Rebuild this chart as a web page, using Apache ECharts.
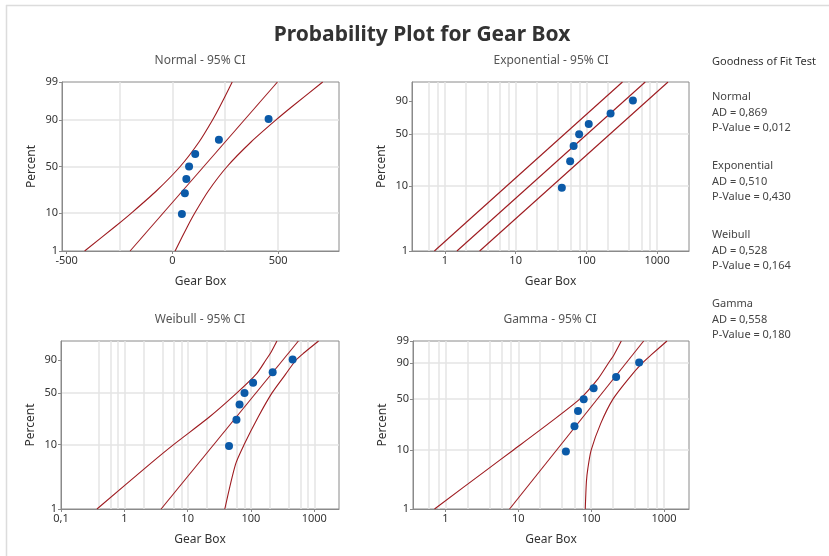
<!DOCTYPE html>
<html lang="en">
<head>
<meta charset="utf-8">
<title>Probability Plot for Gear Box</title>
<script src="https://cdn.jsdelivr.net/npm/echarts@6/dist/echarts.min.js"></script>
<style>
  html, body { margin: 0; padding: 0; background: #fff; }
  #main { width: 829px; height: 556px; }
</style>
</head>
<body>
<div id="main"></div>
<script>
// ---- data ----
var gearBox = [45, 59, 66, 79, 108, 220, 455];
var plotPct = [9.5, 23, 36.5, 50, 63.5, 77, 90.5];

// fitted line and 95% CI, pairs of [Gear Box, Percent]
var normalFit = [[-200, 1], [497, 99]];
var normalLo = [[-415, 1], [-269, 5], [-194, 10], [-76, 25], [37, 50], [126, 75], [190, 90], [224, 95], [283, 99]];
var normalHi = [[13, 1], [72, 5], [106, 10], [170, 25], [259, 50], [372, 75], [490, 90], [565, 95], [711, 99]];

var expoFit = [[1.48, 1], [680, 99]];
var expoLo = [[0.71, 1], [324, 99]];
var expoHi = [[3.1, 1], [1427, 99]];

var weibFit = [[3.81, 1], [561, 99]];
var weibLo = [[0.37, 1], [2.5, 5], [6, 10], [22, 25], [60, 50], [122, 75], [172, 90], [205, 95], [257, 99]];
var weibHi = [[38.6, 1], [57, 5], [78, 10], [130, 25], [215, 50], [355, 75], [515, 90], [690, 95], [1169, 99]];

var gammaFit = [[7.6, 1], [525, 99]];
var gammaLo = [[0.71, 1], [3.9, 5], [8.5, 10], [26, 25], [69.5, 50], [124, 75], [172, 90], [205, 95], [259, 99]];
var gammaHi = [[83, 1], [86, 3], [90, 5], [100, 10], [135, 25], [199, 50], [325, 75], [500, 90], [665, 95], [1097, 99]];

// tick labels
var normalXTicks = [-500, 0, 500];
var normalXGrid = [-500, -250, 0, 250, 500, 750];
var logXTicks = [1, 10, 100, 1000];
var weibXTicks = [0.1, 1, 10, 100, 1000];
var logXGrid = [0.2, 0.4, 0.6, 0.8, 1, 2, 4, 6, 8, 10, 20, 40, 60, 80, 100, 200, 400, 600, 800, 1000, 2000];
var pctTicksFull = [1, 10, 50, 90, 99];
var pctTicksShort = [1, 10, 50, 90];

// goodness of fit
var fitNames = ['Normal', 'Exponential', 'Weibull', 'Gamma'];
var adValues = ['0,869', '0,510', '0,528', '0,558'];
var pValues = ['0,012', '0,430', '0,164', '0,180'];

// ---- probability scales ----
var GAMMA_SHAPE = 1.6;
function erf(x) {
  var t = 1 / (1 + 0.3275911 * x);
  return 1 - (((((1.061405429 * t - 1.453152027) * t) + 1.421413741) * t - 0.284496736) * t + 0.254829592) * t * Math.exp(-x * x);
}
function normCdf(z) {
  var e = erf(Math.abs(z) / Math.SQRT2);
  return z < 0 ? 0.5 * (1 - e) : 0.5 * (1 + e);
}
function lnGamma(z) {
  var c = [0.99999999999980993, 676.5203681218851, -1259.1392167224028, 771.32342877765313,
    -176.61502916214059, 12.507343278686905, -0.13857109526572012, 9.9843695780195716e-6, 1.5056327351493116e-7];
  z -= 1;
  var x = c[0];
  for (var i = 1; i < 9; i++) x += c[i] / (z + i);
  var t = z + 7.5;
  return 0.5 * Math.log(2 * Math.PI) + (z + 0.5) * Math.log(t) - t + Math.log(x);
}
function gammaP(a, x) {
  if (x <= 0) return 0;
  var sum = 1 / a, term = 1 / a;
  for (var n = 1; n < 400; n++) {
    term *= x / (a + n);
    sum += term;
    if (term < sum * 1e-13) break;
  }
  return sum * Math.exp(-x + a * Math.log(x) - lnGamma(a));
}
function invert(f, p, lo, hi) {
  for (var i = 0; i < 100; i++) {
    var m = (lo + hi) / 2;
    if (f(m) < p) lo = m; else hi = m;
  }
  return (lo + hi) / 2;
}
function tNormal(pct) { return invert(normCdf, pct / 100, -8, 8); }
function tExpo(pct) { return Math.log10(-Math.log(1 - pct / 100)); }
function tGamma(pct) {
  return Math.log10(invert(function (x) { return gammaP(GAMMA_SHAPE, x); }, pct / 100, 1e-9, 60));
}
function lin(v) { return v; }
function log10(v) { return Math.log10(v); }

// ---- layout ----
var FONT = '"Noto Sans", "Open Sans", sans-serif';
var LINE_RED = '#9e1b20';
var DOT_BLUE = '#0b5aa8';
var AXIS_GRAY = '#8a8a8a';
var GRID_GRAY = '#e4e4e4';

var panels = [
  { title: 'Normal - 95% CI', tx: 200, ty: 61, grid: { left: 62, top: 82, width: 277, height: 169 },
    xT: lin, xMin: -522, xMax: 788, xTicks: normalXTicks, xGrid: normalXGrid,
    yT: tNormal, yTicks: pctTicksFull, fit: normalFit, lo: normalLo, hi: normalHi },
  { title: 'Exponential - 95% CI', tx: 551, ty: 61, grid: { left: 412, top: 82, width: 277, height: 169 },
    xT: log10, xMin: -0.465, xMax: 3.451, xTicks: logXTicks, xGrid: logXGrid,
    yT: tExpo, yTicks: pctTicksShort, fit: expoFit, lo: expoLo, hi: expoHi },
  { title: 'Weibull - 95% CI', tx: 200, ty: 320, grid: { left: 61, top: 341, width: 278, height: 168 },
    xT: log10, xMin: -1, xMax: 3.39, xTicks: weibXTicks, xGrid: logXGrid,
    yT: tExpo, yTicks: pctTicksShort, fit: weibFit, lo: weibLo, hi: weibHi },
  { title: 'Gamma - 95% CI', tx: 550, ty: 320, grid: { left: 413, top: 341, width: 276, height: 168 },
    xT: log10, xMin: -0.444, xMax: 3.342, xTicks: logXTicks, xGrid: logXGrid,
    yT: tGamma, yTicks: pctTicksFull, fit: gammaFit, lo: gammaLo, hi: gammaHi }
];

var grids = [], xAxes = [], yAxes = [], series = [];
var graphics = [];

panels.forEach(function (p, i) {
  grids.push(Object.assign({ show: true, borderColor: AXIS_GRAY, borderWidth: 1, backgroundColor: '#fff' }, p.grid));

  var xGridVals = p.xGrid.map(p.xT).filter(function (v) { return v > p.xMin && v < p.xMax; });
  var xTickVals = p.xTicks.map(p.xT);

  // axis that only carries the vertical grid lines
  xAxes.push({
    type: 'value', gridIndex: i, min: p.xMin, max: p.xMax,
    axisLine: { show: false },
    axisTick: { show: false, customValues: xGridVals },
    axisLabel: { show: false },
    splitLine: { show: true, showMinLine: false, showMaxLine: false, lineStyle: { color: GRID_GRAY, width: 1.5 } }
  });
  // axis with labels and ticks
  xAxes.push({
    type: 'value', gridIndex: i, position: 'bottom', min: p.xMin, max: p.xMax,
    name: 'Gear Box', nameLocation: 'middle', nameGap: 25,
    nameTextStyle: { fontFamily: FONT, fontSize: 12, color: '#333' },
    axisLine: { show: true, onZero: false, lineStyle: { color: AXIS_GRAY } },
    axisTick: { show: true, length: 3, customValues: xTickVals, lineStyle: { color: AXIS_GRAY } },
    axisLabel: {
      customValues: xTickVals, margin: 4, fontFamily: FONT, fontSize: 11, color: '#333',
      formatter: function (v) {
        if (p.xT === lin) return String(Math.round(v));
        var n = Math.round(Math.pow(10, v) * 1000) / 1000;
        return String(n).replace('.', ',');
      }
    },
    splitLine: { show: false }
  });

  var yMin = p.yT(1), yMax = p.yT(99);
  var yTickVals = p.yTicks.map(p.yT);
  yAxes.push({
    type: 'value', gridIndex: i, min: yMin, max: yMax,
    name: 'Percent', nameLocation: 'middle', nameGap: 24,
    nameTextStyle: { fontFamily: FONT, fontSize: 12, color: '#333' },
    axisLine: { show: true, onZero: false, lineStyle: { color: AXIS_GRAY } },
    axisTick: { show: true, length: 3, customValues: yTickVals, lineStyle: { color: AXIS_GRAY } },
    axisLabel: {
      customValues: yTickVals, margin: 4, fontFamily: FONT, fontSize: 11, color: '#333',
      formatter: function (v) {
        for (var k = 0; k < p.yTicks.length; k++) {
          if (Math.abs(yTickVals[k] - v) < 1e-6) return String(p.yTicks[k]);
        }
        return '';
      }
    },
    splitLine: { show: true, showMinLine: false, showMaxLine: false, lineStyle: { color: GRID_GRAY, width: 1.5 } }
  });

  function toXY(arr) {
    return arr.map(function (d) { return [p.xT(d[0]), p.yT(d[1])]; });
  }
  [p.lo, p.fit, p.hi].forEach(function (arr) {
    series.push({
      type: 'line', xAxisIndex: 2 * i + 1, yAxisIndex: i, data: toXY(arr),
      showSymbol: false, smooth: arr.length > 2 ? 0.25 : false, silent: true,
      lineStyle: { color: LINE_RED, width: 1.1 }, z: 3
    });
  });
  series.push({
    type: 'scatter', xAxisIndex: 2 * i + 1, yAxisIndex: i,
    data: gearBox.map(function (g, k) { return [p.xT(g), p.yT(plotPct[k])]; }),
    symbolSize: 8, itemStyle: { color: DOT_BLUE, opacity: 1 }, z: 4
  });

  graphics.push({
    type: 'text', x: p.tx, y: p.ty,
    style: { text: p.title, fontFamily: FONT, fontSize: 12, fill: '#555', align: 'center', verticalAlign: 'middle' }
  });
});

// main title and frame
graphics.push({
  type: 'text', x: 422, y: 35,
  style: { text: 'Probability Plot for Gear Box', fontFamily: FONT, fontSize: 21, fontWeight: 'bold', fill: '#333', align: 'center', verticalAlign: 'middle' }
});
graphics.push({ type: 'line', shape: { x1: 6, y1: 5.5, x2: 829, y2: 5.5 }, style: { stroke: '#dcdcdc', lineWidth: 1.5 } });
graphics.push({ type: 'line', shape: { x1: 6.5, y1: 5, x2: 6.5, y2: 556 }, style: { stroke: '#dcdcdc', lineWidth: 1.5 } });

// goodness of fit block
graphics.push({
  type: 'text', x: 712, y: 62,
  style: { text: 'Goodness of Fit Test', fontFamily: FONT, fontSize: 11, fill: '#333', verticalAlign: 'middle' }
});
fitNames.forEach(function (nm, k) {
  var y0 = 97 + k * 69;
  [nm, 'AD = ' + adValues[k], 'P-Value = ' + pValues[k]].forEach(function (s, j) {
    graphics.push({
      type: 'text', x: 712, y: y0 + j * 15.5,
      style: { text: s, fontFamily: FONT, fontSize: 11, fill: '#444', verticalAlign: 'middle' }
    });
  });
});

var chart = echarts.init(document.getElementById('main'));
chart.setOption({
  backgroundColor: '#fff',
  animation: false,
  grid: grids,
  xAxis: xAxes,
  yAxis: yAxes,
  series: series,
  graphic: graphics
});
</script>
</body>
</html>
